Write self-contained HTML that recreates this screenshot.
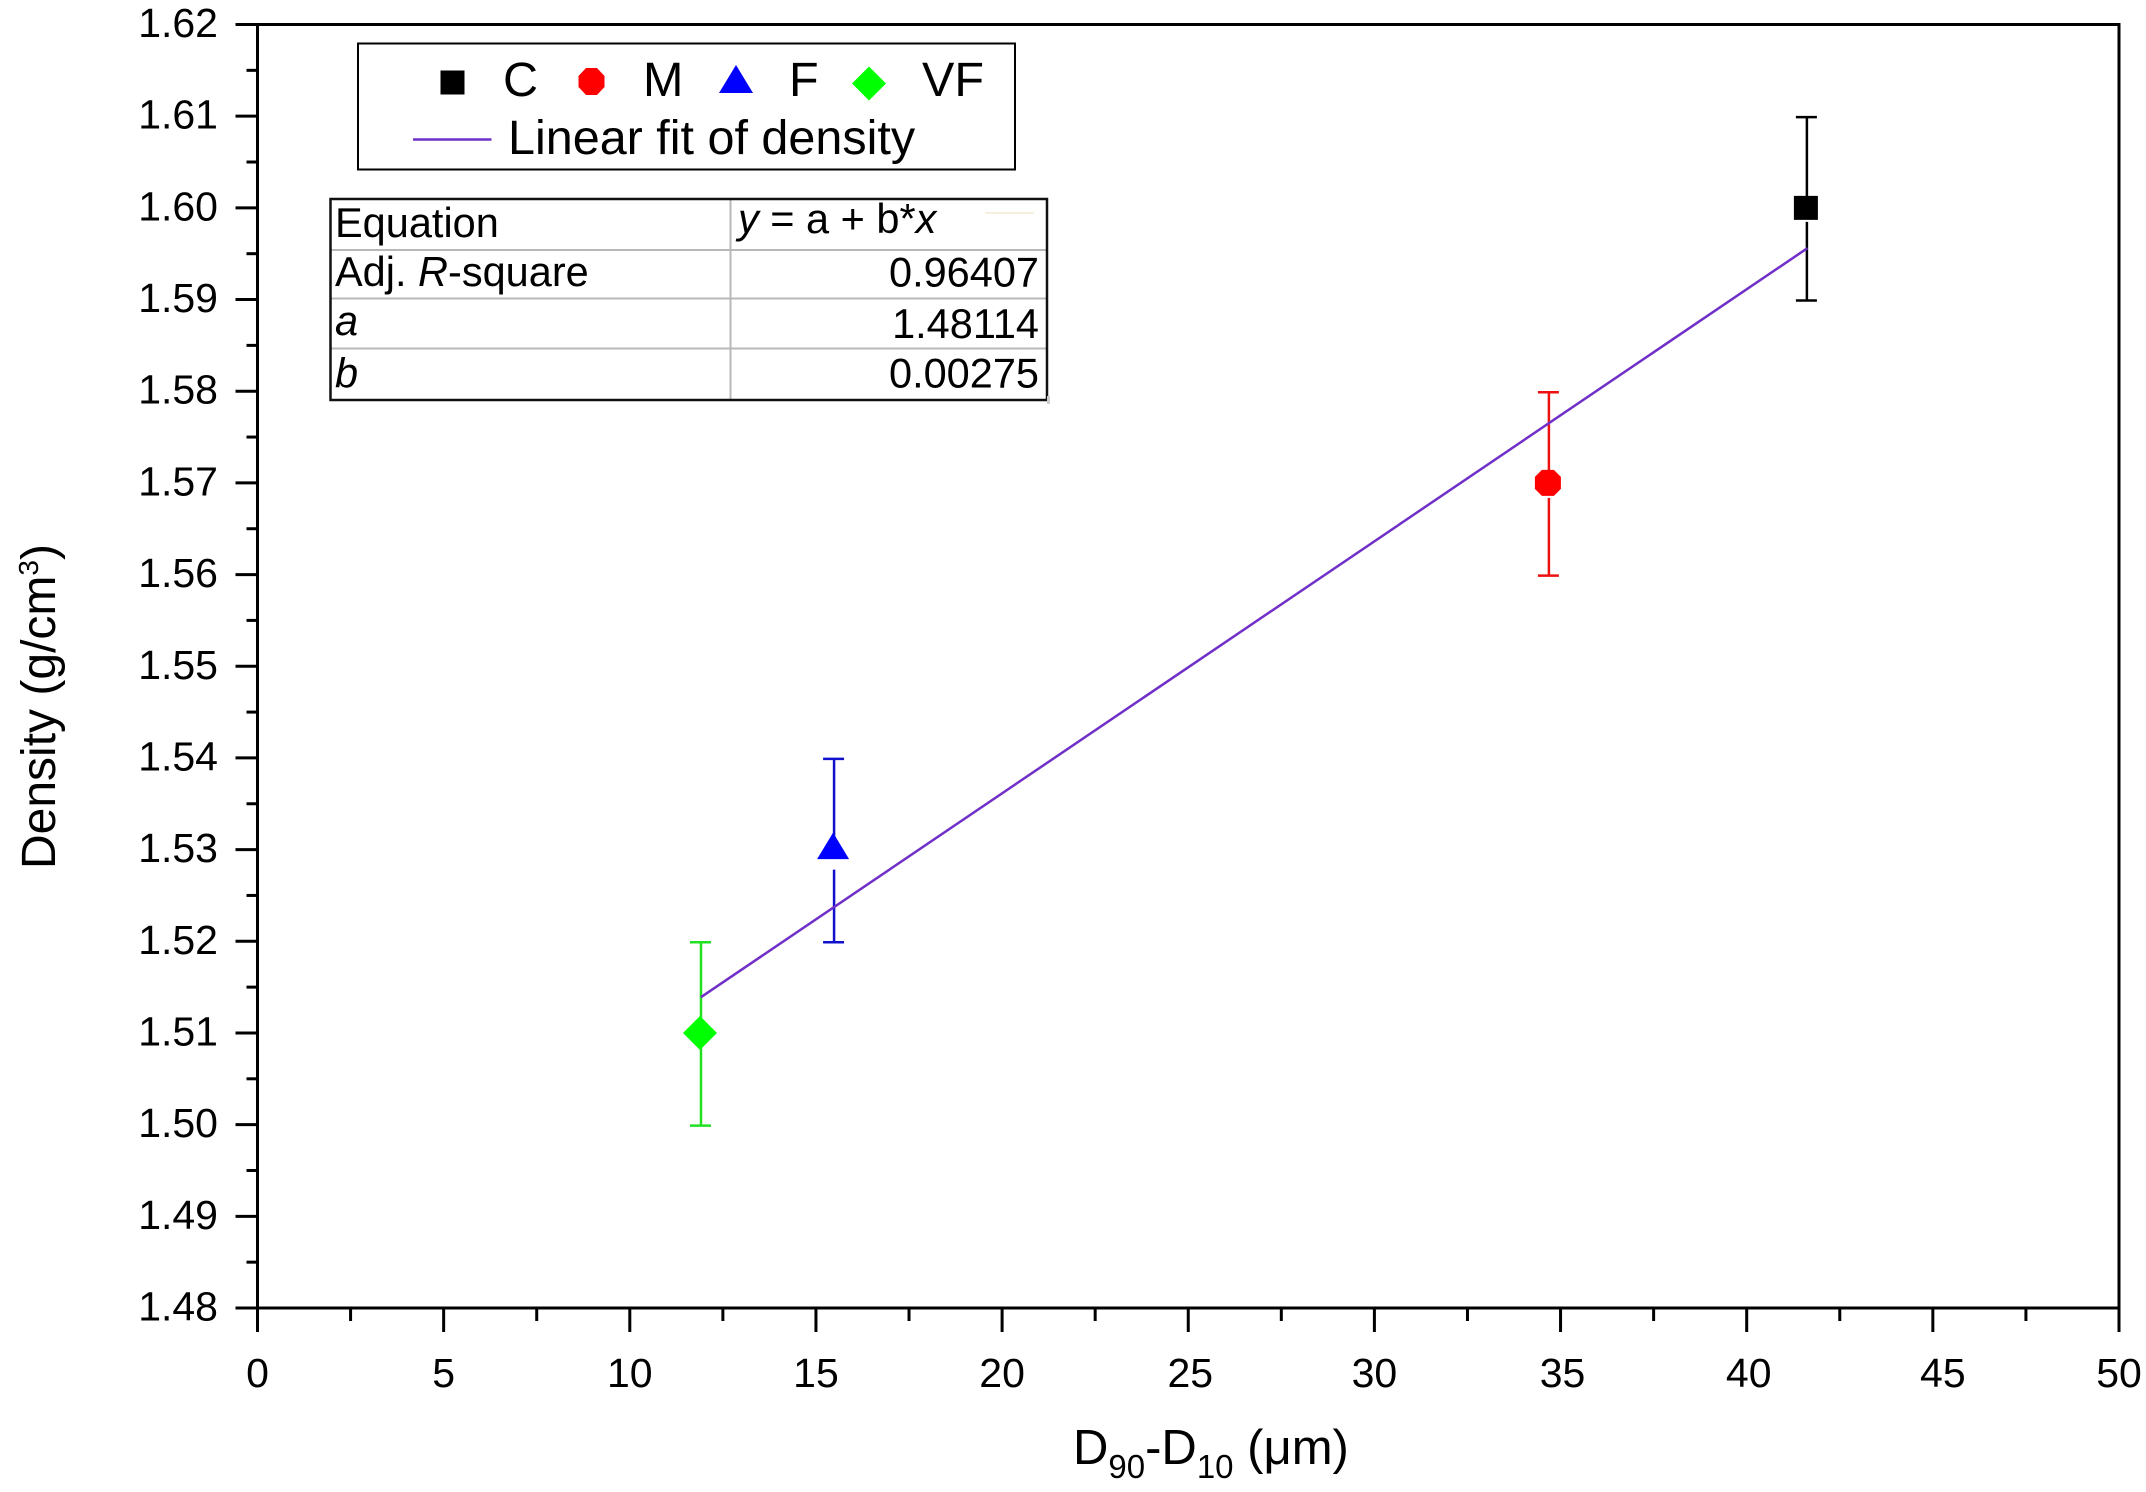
<!DOCTYPE html>
<html lang="en">
<head>
<meta charset="utf-8">
<title>Density vs D90-D10</title>
<style>
  html, body { margin: 0; padding: 0; background: #fff; }
  body { width: 2146px; height: 1492px; overflow: hidden; }
  svg { display: block; font-family: "Liberation Sans", Arial, sans-serif; fill: #000; }
  .tick-label { font-size: 41px; }
  .title { font-size: 48px; white-space: pre; }
  .x-title { font-size: 49px; white-space: pre; }
  .legend-text { font-size: 48.5px; }
  .cell { font-size: 41.5px; }
  .it { font-style: italic; }
</style>
</head>
<body>
<svg id="chart" xmlns="http://www.w3.org/2000/svg" width="2146" height="1492" viewBox="0 0 2146 1492">
  <rect x="0" y="0" width="2146" height="1492" fill="#fff"/>
  <g id="axes"></g>
  <g id="series"></g>

  <text class="title" transform="translate(55 869) rotate(-90)" xml:space="preserve">Density (g/cm<tspan font-size="28" dy="-17">3</tspan><tspan dy="17">)</tspan></text>
  <text class="x-title" x="1073" y="1464" xml:space="preserve">D<tspan font-size="33" dy="14">90</tspan><tspan dy="-14">-D</tspan><tspan font-size="33" dy="14">10</tspan><tspan dy="-14"> (μm)</tspan></text>

  <g>
    <rect x="358" y="43.5" width="657" height="126" fill="#fff" stroke="#000" stroke-width="2"/>
    <rect x="440.5" y="70.5" width="24" height="24" fill="#000"/>
    <text class="legend-text" x="503" y="96">C</text>
    <polygon points="586,68 597,68 604.5,76 604.5,87 597,95 586,95 578.5,87 578.5,76" fill="#f00"/>
    <text class="legend-text" x="643" y="96">M</text>
    <polygon points="736,65 753,93 719,93" fill="#00f"/>
    <text class="legend-text" x="789" y="96">F</text>
    <polygon points="869,66.5 886,83.5 869,100.5 852,83.5" fill="#0f0"/>
    <text class="legend-text" x="922" y="96">VF</text>
    <line x1="413" y1="139.5" x2="491.5" y2="139.5" stroke="#7030c8" stroke-width="2.5"/>
    <text class="legend-text" x="508" y="154">Linear fit of density</text>
  </g>

  <g>
    <rect x="330" y="199" width="717" height="201" fill="#fff"/>
    <line x1="730.5" y1="199" x2="730.5" y2="400" stroke="#b8b8b8" stroke-width="2"/>
    <line x1="330" y1="250" x2="1047" y2="250" stroke="#b8b8b8" stroke-width="2"/>
    <line x1="330" y1="298.5" x2="1047" y2="298.5" stroke="#b8b8b8" stroke-width="2"/>
    <line x1="330" y1="348.5" x2="1047" y2="348.5" stroke="#b8b8b8" stroke-width="2"/>
    <rect x="330.5" y="199" width="716.5" height="201" fill="none" stroke="#111" stroke-width="2.5"/>
    <line x1="985" y1="213" x2="1034" y2="213" stroke="#f5efdc" stroke-width="2"/>
    <rect x="1047" y="396" width="3" height="8" fill="#ccc"/>
    <text class="cell" x="335" y="237">Equation</text>
    <text class="cell" x="738" y="233"><tspan class="it">y</tspan> = a + b*<tspan class="it">x</tspan></text>
    <text class="cell" x="335" y="286">Adj. <tspan class="it">R</tspan>-square</text>
    <text class="cell" x="1039" y="286.5" text-anchor="end">0.96407</text>
    <text class="cell it" x="335" y="335">a</text>
    <text class="cell" x="1039" y="338" text-anchor="end">1.48114</text>
    <text class="cell it" x="335" y="387.5">b</text>
    <text class="cell" x="1039" y="387.5" text-anchor="end">0.00275</text>
  </g>
</svg>
<script>
// ----- chart data -----
const xTickLabels = ["0", "5", "10", "15", "20", "25", "30", "35", "40", "45", "50"];
const yTickLabels = ["1.48", "1.49", "1.50", "1.51", "1.52", "1.53", "1.54", "1.55", "1.56", "1.57", "1.58", "1.59", "1.60", "1.61", "1.62"];
const categories = ["C", "M", "F", "VF"];
const xValues = [41.59, 34.66, 15.46, 11.885];
const yValues = [1.60, 1.57, 1.53, 1.51];
const yErrors = [0.01, 0.01, 0.01, 0.01];
const fitX = [11.91, 41.63];
const fitY = [1.5139, 1.5956];

// ----- layout and style -----
const plot = { left: 257.5, right: 2119, top: 24.5, bottom: 1308, xMin: 0, xMax: 50, yMin: 1.48, yMax: 1.62 };
const seriesColor = { C: "#000", M: "#f00", F: "#00f", VF: "#0f0" };
const stemColor = { C: "#000", M: "#ee1111", F: "#1111cc", VF: "#22e022" };
const stemGapBelow = { C: 14, M: 15, F: 20, VF: 0 };
const xLabelShift = { "45": 10, "40": 2, "25": 2, "35": 2 };
const errorBarDrop = 1;

const NS = "http://www.w3.org/2000/svg";
const axesGroup = document.getElementById("axes");
const seriesGroup = document.getElementById("series");

function sx(v) { return plot.left + (v - plot.xMin) / (plot.xMax - plot.xMin) * (plot.right - plot.left); }
function sy(v) { return plot.bottom - (v - plot.yMin) / (plot.yMax - plot.yMin) * (plot.bottom - plot.top); }

function make(tag, parent, attrs) {
  const el = document.createElementNS(NS, tag);
  for (const k in attrs) el.setAttribute(k, attrs[k]);
  parent.appendChild(el);
  return el;
}
function segment(parent, x1, y1, x2, y2, stroke, width) {
  return make("line", parent, { x1: x1, y1: y1, x2: x2, y2: y2, stroke: stroke, "stroke-width": width });
}

// frame
const frameLeft = segment(axesGroup, sx(plot.xMin), sy(plot.yMin), sx(plot.xMin), sy(plot.yMax), "#000", 3);


const frameBottom = segment(axesGroup, sx(plot.xMin), sy(plot.yMin), sx(plot.xMax), sy(plot.yMin), "#000", 3);


const frameTop = segment(axesGroup, sx(plot.xMin), sy(plot.yMax), sx(plot.xMax) + 1.5, sy(plot.yMax), "#000", 3);


const frameRight = segment(axesGroup, sx(plot.xMax), sy(plot.yMin), sx(plot.xMax), sy(plot.yMax), "#000", 3);



// x axis ticks and labels
xTickLabels.forEach(function (label, i) {
  const v = parseFloat(label);
  const px = sx(v);
  const tick = segment(axesGroup, px, plot.bottom, px, plot.bottom + 24, "#000", 3);
  
  
  const text = make("text", axesGroup, { x: px + (xLabelShift[label] || 0), y: 1387, "text-anchor": "middle", "class": "tick-label" });
  text.textContent = label;
  
  
  if (i < xTickLabels.length - 1) {
    const next = parseFloat(xTickLabels[i + 1]);
    const minorPx = sx((v + next) / 2);
    const minor = segment(axesGroup, minorPx, plot.bottom, minorPx, plot.bottom + 13, "#000", 3);
    
    
  }
});

// y axis ticks and labels
yTickLabels.forEach(function (label, i) {
  const v = parseFloat(label);
  const py = sy(v);
  const tick = segment(axesGroup, plot.left, py, plot.left - 22, py, "#000", 3);
  
  
  const text = make("text", axesGroup, { x: 218, y: py + 12.5, "text-anchor": "end", "class": "tick-label" });
  text.textContent = label;
  
  
  if (i < yTickLabels.length - 1) {
    const next = parseFloat(yTickLabels[i + 1]);
    const minorPy = sy((v + next) / 2);
    const minor = segment(axesGroup, plot.left, minorPy, plot.left - 11, minorPy, "#000", 3);
    
    
  }
});

// error bars
categories.forEach(function (cat, i) {
  const cx = sx(xValues[i]);
  const cy = sy(yValues[i]);
  const stemX = cx + 1;
  const top = sy(yValues[i] + yErrors[i]) + errorBarDrop;
  const bottom = sy(yValues[i] - yErrors[i]) + errorBarDrop;
  const upper = segment(seriesGroup, stemX, top, stemX, cy, stemColor[cat], 2.5);
  
  
  const lower = segment(seriesGroup, stemX, cy + stemGapBelow[cat], stemX, bottom, stemColor[cat], 2.5);
  
  
  const capTop = segment(seriesGroup, cx - 10, top, cx + 11, top, stemColor[cat], 2.5);
  
  
  const capBottom = segment(seriesGroup, cx - 10, bottom, cx + 11, bottom, stemColor[cat], 2.5);
  
  
});

// fit line
const fitLine = make("polyline", seriesGroup, {
  points: fitX.map(function (x, i) { return sx(x) + "," + sy(fitY[i]); }).join(" "),
  fill: "none",
  stroke: "#7030c8",
  "stroke-width": 2.5
});



// markers
function markerPoints(cat) {
  if (cat === "M") {
    return [[-6, -13], [6, -13], [13, -6], [13, 6], [6, 13], [-6, 13], [-13, 6], [-13, -6]];
  }
  if (cat === "F") {
    return [[0, -17], [16, 9.5], [-16, 9.5]];
  }
  if (cat === "VF") {
    return [[0, -17], [17, 0], [0, 17], [-17, 0]];
  }
  return [[-12, -12], [12, -12], [12, 12], [-12, 12]];
}
categories.forEach(function (cat, i) {
  const cx = sx(xValues[i]);
  const cy = sy(yValues[i]);
  const marker = make("polygon", seriesGroup, {
    points: markerPoints(cat).map(function (p) { return (cx + p[0]) + "," + (cy + p[1]); }).join(" "),
    fill: seriesColor[cat]
  });
  
  
});
</script>
</body>
</html>
